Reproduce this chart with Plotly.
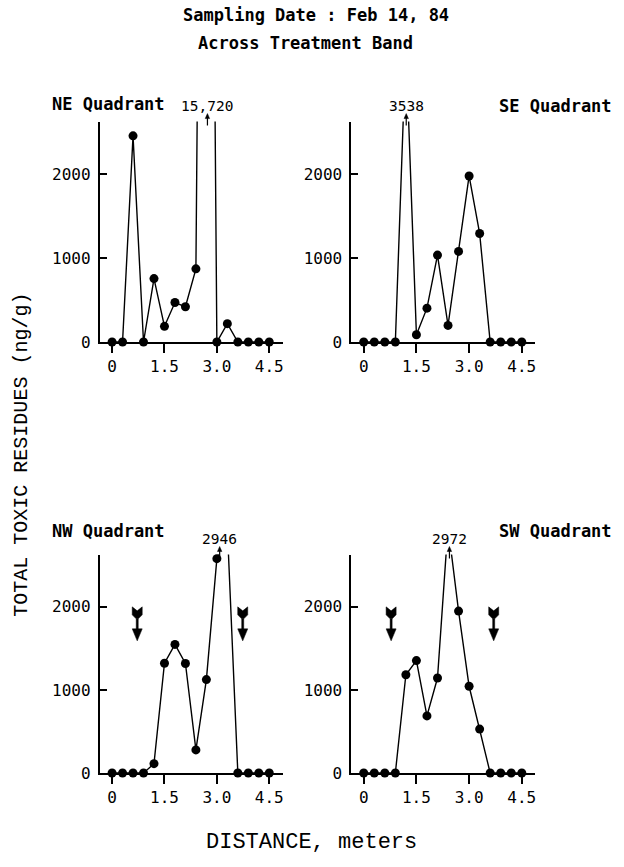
import plotly.graph_objects as go

# ---------------- data ----------------
distance = [0, 0.3, 0.6, 0.9, 1.2, 1.5, 1.8, 2.1, 2.4, 2.7, 3.0, 3.3, 3.6, 3.9, 4.2, 4.5]

ne_values = [0, 0, 2460, 0, 757, 187, 471, 421, 873, 15720, 0, 219, 0, 0, 0, 0]
se_values = [0, 0, 0, 0, 3538, 87, 404, 1037, 198, 1081, 1981, 1295, 0, 0, 0, 0]
nw_values = [0, 0, 0, 0, 112, 1321, 1548, 1318, 278, 1124, 2580, 2946, 0, 0, 0, 0]
sw_values = [0, 0, 0, 0, 1183, 1353, 687, 1143, 2972, 1949, 1044, 528, 0, 0, 0, 0]

panel_names = ["NE Quadrant", "SE Quadrant", "NW Quadrant", "SW Quadrant"]
peak_labels = ["15,720", "3538", "2946", "2972"]

x_tick_vals = [0, 1.5, 3.0, 4.5]
x_tick_text = ["0", "1.5", "3.0", "4.5"]
y_tick_vals = [0, 1000, 2000]
y_tick_text = ["0", "1000", "2000"]

# ---------------- layout config ----------------
W, H = 624, 867
Y_MAX = 2630
X_RANGE = [-0.35, 4.88]

def px_x(p):
    return p / W

def px_y(p):
    return 1 - p / H

panels = [
    dict(vals=ne_values, xd=(100, 283), yd=(123, 346), lab=(50, 105), anchor="left", peak_x=2.73, band=[]),
    dict(vals=se_values, xd=(352, 536), yd=(123, 346), lab=(615, 107), anchor="right", peak_x=1.21, band=[]),
    dict(vals=nw_values, xd=(100, 283), yd=(561, 782), lab=(50, 537), anchor="left", peak_x=3.08, band=[0.72, 3.74]),
    dict(vals=sw_values, xd=(352, 536), yd=(561, 782), lab=(615, 537), anchor="right", peak_x=2.44, band=[0.78, 3.70]),
]

fig = go.Figure()
annotations = []
shapes = []

TICK_FONT = dict(family="DejaVu Sans Mono", size=16, color="black")

for i, p in enumerate(panels):
    n = i + 1
    xa = "x" if n == 1 else f"x{n}"
    ya = "y" if n == 1 else f"y{n}"
    xkey = "xaxis" if n == 1 else f"xaxis{n}"
    ykey = "yaxis" if n == 1 else f"yaxis{n}"

    # line (clipped at the top for off-scale peaks)
    fig.add_trace(go.Scatter(
        x=distance, y=p["vals"], mode="lines", xaxis=xa, yaxis=ya,
        line=dict(color="black", width=1.4), showlegend=False, hoverinfo="skip",
    ))
    # markers for on-scale points only
    mx = [d for d, v in zip(distance, p["vals"]) if v <= Y_MAX]
    my = [v for v in p["vals"] if v <= Y_MAX]
    fig.add_trace(go.Scatter(
        x=mx, y=my, mode="markers", xaxis=xa, yaxis=ya, cliponaxis=False,
        marker=dict(color="black", size=9, line=dict(width=0)),
        showlegend=False, hoverinfo="skip",
    ))

    fig.update_layout(**{
        xkey: dict(
            domain=[px_x(p["xd"][0]), px_x(p["xd"][1])], range=X_RANGE,
            anchor=ya, showline=True, linecolor="black", linewidth=2,
            ticks="outside", ticklen=9, tickwidth=2, tickcolor="black",
            tickvals=x_tick_vals, ticktext=x_tick_text, tickfont=TICK_FONT,
            showgrid=False, zeroline=False, fixedrange=True,
        ),
        ykey: dict(
            domain=[px_y(p["yd"][1]), px_y(p["yd"][0])], range=[0, Y_MAX],
            anchor=xa, showline=True, linecolor="black", linewidth=2,
            ticks="inside", ticklen=7, tickwidth=2, tickcolor="black",
            tickvals=y_tick_vals, ticktext=y_tick_text, tickfont=TICK_FONT,
            ticklabelstandoff=4,
            showgrid=False, zeroline=False, fixedrange=True,
        ),
    })

    # quadrant label
    annotations.append(dict(
        text=panel_names[i], xref="paper", yref="paper",
        x=px_x(p["lab"][0]), y=px_y(p["lab"][1]),
        xanchor=p["anchor"], yanchor="middle", showarrow=False,
        font=dict(family="DejaVu Sans Mono", size=17, color="black", weight="bold"),
    ))

    # off-scale peak label + small up arrow
    annotations.append(dict(
        text=peak_labels[i], xref=xa, yref=f"{ya} domain",
        x=p["peak_x"], y=1, yshift=16, xanchor="center", yanchor="middle",
        showarrow=False,
        font=dict(family="DejaVu Sans Mono", size=14.5, color="black"),
    ))
    shapes.append(dict(
        type="path", xref=xa, yref=f"{ya} domain", xsizemode="pixel", ysizemode="pixel",
        xanchor=p["peak_x"], yanchor=1, path="M0,-4 L0,5",
        line=dict(color="black", width=1.2),
    ))
    shapes.append(dict(
        type="path", xref=xa, yref=f"{ya} domain", xsizemode="pixel", ysizemode="pixel",
        xanchor=p["peak_x"], yanchor=1, path="M-2.2,3 L2.2,3 L0,8 Z",
        fillcolor="black", line=dict(color="black", width=0.5),
    ))

    # treatment band arrows (feathered, pointing down)
    for bx in p["band"]:
        shapes.append(dict(
            type="path", xref=xa, yref=ya, xsizemode="pixel", ysizemode="pixel",
            xanchor=bx, yanchor=2000,
            path="M-5,0 L0,-4 L5,0 L5,-8 L1,-12 L-1,-12 L-5,-8 Z",
            fillcolor="black", line=dict(color="black", width=0.5),
        ))
        shapes.append(dict(
            type="path", xref=xa, yref=ya, xsizemode="pixel", ysizemode="pixel",
            xanchor=bx, yanchor=2000,
            path="M-1,-12 L1,-12 L1,-24 L-1,-24 Z",
            fillcolor="black", line=dict(color="black", width=0.5),
        ))
        shapes.append(dict(
            type="path", xref=xa, yref=ya, xsizemode="pixel", ysizemode="pixel",
            xanchor=bx, yanchor=2000,
            path="M-5,-22 L5,-22 L0,-34 Z",
            fillcolor="black", line=dict(color="black", width=0.5),
        ))

# titles
annotations.append(dict(
    text="Sampling Date : Feb 14, 84", xref="paper", yref="paper",
    x=px_x(317), y=px_y(15), xanchor="center", yanchor="middle", showarrow=False,
    font=dict(family="DejaVu Sans Mono", size=17, color="black", weight="bold"),
))
annotations.append(dict(
    text="Across Treatment Band", xref="paper", yref="paper",
    x=px_x(306), y=px_y(43), xanchor="center", yanchor="middle", showarrow=False,
    font=dict(family="DejaVu Sans Mono", size=17, color="black", weight="bold"),
))
# axis titles
annotations.append(dict(
    text="TOTAL TOXIC RESIDUES (ng/g)", xref="paper", yref="paper",
    x=px_x(22), y=px_y(460), xanchor="center", yanchor="middle", showarrow=False,
    textangle=-90,
    font=dict(family="Liberation Mono", size=20, color="black"),
))
annotations.append(dict(
    text="DISTANCE, meters", xref="paper", yref="paper",
    x=px_x(312), y=px_y(852), xanchor="center", yanchor="middle", showarrow=False,
    font=dict(family="Liberation Mono", size=22, color="black"),
))

fig.update_layout(
    width=W, height=H, margin=dict(l=0, r=0, t=0, b=0),
    paper_bgcolor="white", plot_bgcolor="white",
    annotations=annotations, shapes=shapes, showlegend=False,
)

fig.write_html("out.html", config={"displayModeBar": False})
